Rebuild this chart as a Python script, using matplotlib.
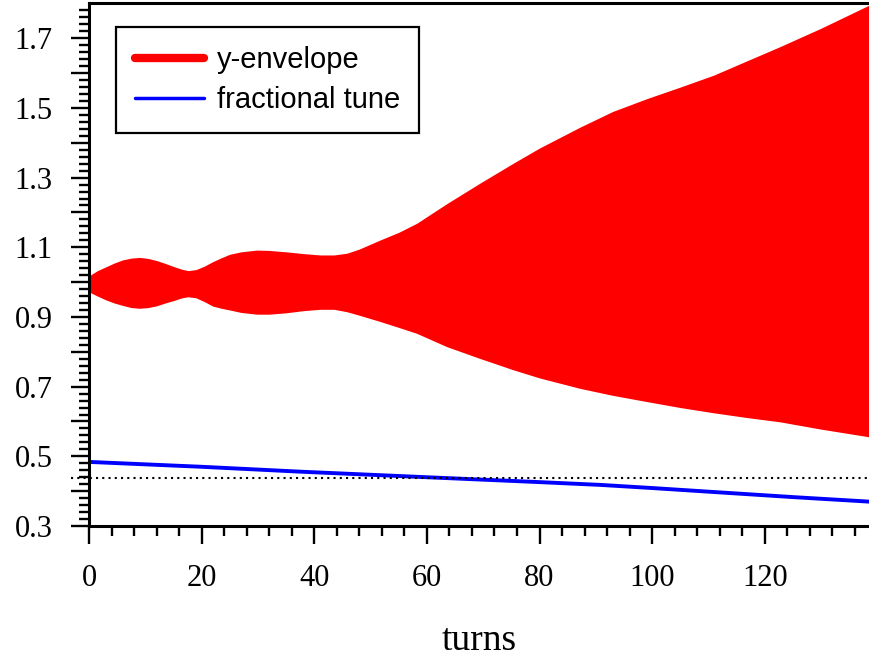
import numpy as np
import matplotlib
matplotlib.use('Agg')
import matplotlib.pyplot as plt
from matplotlib.lines import Line2D

# envelope of y
turns_env = [0, 1.5, 3, 4.5, 6, 7.5, 9, 10.5, 12, 13.5, 15, 16.5, 17.6, 19, 20.5,
             22, 23.5, 25, 27, 29.8, 32, 35, 38, 41, 43.5, 45.8, 48, 51.7, 55, 58.2,
             63.5, 69.4, 75.4, 80, 87.2, 93, 99.1, 105, 110.9, 116.5, 122.7, 130, 138.5]
env_upper = [1.018, 1.033, 1.044, 1.055, 1.064, 1.069, 1.071, 1.068, 1.062, 1.054,
             1.045, 1.037, 1.033, 1.036, 1.046, 1.059, 1.070, 1.080, 1.087, 1.092,
             1.091, 1.087, 1.082, 1.078, 1.078, 1.083, 1.095, 1.121, 1.143, 1.169,
             1.225, 1.284, 1.342, 1.385, 1.445, 1.490, 1.527, 1.560, 1.594, 1.633,
             1.676, 1.729, 1.795]
env_lower = [0.972, 0.960, 0.949, 0.940, 0.933, 0.927, 0.925, 0.927, 0.932, 0.940,
             0.947, 0.955, 0.958, 0.955, 0.944, 0.931, 0.925, 0.920, 0.913, 0.908,
             0.908, 0.912, 0.918, 0.922, 0.922, 0.915, 0.905, 0.887, 0.870, 0.853,
             0.815, 0.781, 0.748, 0.725, 0.695, 0.675, 0.657, 0.640, 0.625, 0.612,
             0.599, 0.578, 0.556]

# fractional tune
turns_tune = [0, 20, 37.5, 60, 80, 90.8, 100, 114.4, 125, 138.5]
tune = [0.484, 0.470, 0.456, 0.440, 0.426, 0.418, 0.409, 0.394, 0.383, 0.370]

resonance = 0.438

fig = plt.figure(figsize=(8.69, 6.59), dpi=100)
ax = fig.add_axes([0.1024, 0.2018, 0.8976, 0.793])

ax.fill_between(turns_env, env_lower, env_upper, color='#ff0000', linewidth=0)
ax.plot(turns_tune, tune, color='#0000ff', linewidth=2.8)
ax.axhline(resonance, xmin=-0.023, xmax=1, color='black', linewidth=1.5,
           linestyle=(0, (1, 2)), clip_on=False)

ax.set_xlim(0, 138.5)
ax.set_ylim(0.3, 1.8)

ax.spines['right'].set_visible(False)
for s in ['left', 'bottom', 'top']:
    ax.spines[s].set_linewidth(2.2)

ax.set_xticks(np.arange(0, 121, 20))
ax.set_xticks(np.arange(0, 139, 4), minor=True)
ax.set_yticks(np.arange(0.3, 1.75, 0.1))
ax.set_yticklabels(['0.3', '', '0.5', '', '0.7', '', '0.9', '', '1.1', '', '1.3', '',
                    '1.5', '', '1.7'])
ax.set_yticks(np.arange(0.3, 1.8, 0.02), minor=True)
ax.tick_params(which='major', length=13, width=1.7, labelsize=22,
               labelfontfamily='Liberation Serif')
ax.tick_params(which='minor', length=7, width=1.7)
ax.tick_params(axis='y', pad=13)
ax.tick_params(axis='x', pad=14)

ax.set_xlabel('turns', fontfamily='Liberation Serif', fontsize=27, labelpad=22)

handles = [Line2D([], [], color='#ff0000', linewidth=6, solid_capstyle='round'),
           Line2D([], [], color='#0000ff', linewidth=2.5, solid_capstyle='round')]
leg = ax.legend(handles, ['y-envelope', 'fractional tune'], loc='upper left',
                bbox_to_anchor=(0.035, 0.955), prop={'family': 'Liberation Sans', 'size': 21},
                fancybox=False, framealpha=1, edgecolor='black', handlelength=2.35,
                handletextpad=0.45, labelspacing=0.42, borderpad=0.65, borderaxespad=0)
leg.get_frame().set_linewidth(1.6)

fig.savefig('out.png', dpi=100)
